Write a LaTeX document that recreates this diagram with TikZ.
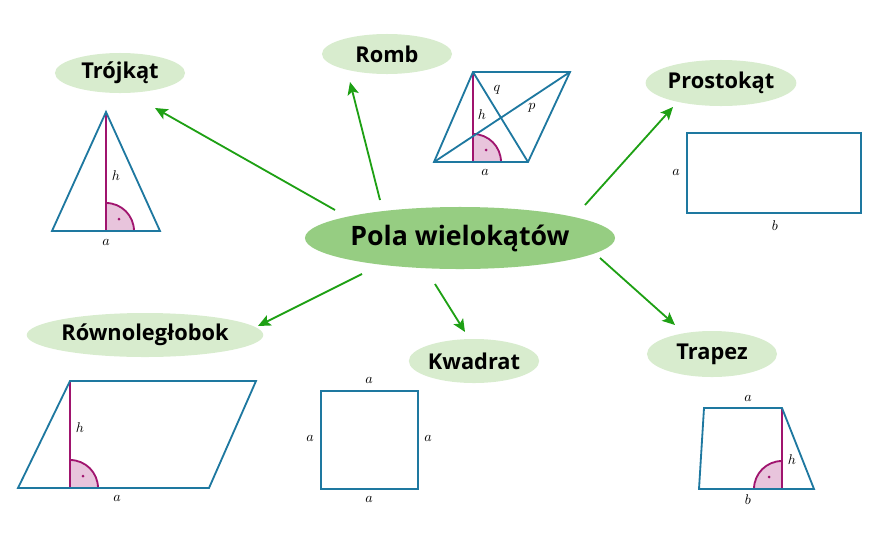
\documentclass[tikz,border=0pt]{standalone}
\usepackage{fontspec}
\newfontfamily\labfont{Open Sans}
\usetikzlibrary{shapes.geometric,arrows.meta}
\definecolor{edgeblue}{RGB}{30,120,160}
\definecolor{hmag}{RGB}{160,20,110}
\definecolor{angpink}{RGB}{232,196,220}
\definecolor{bubble}{RGB}{216,236,206}
\definecolor{bubblemain}{RGB}{150,205,130}
\definecolor{arrowgreen}{RGB}{30,160,20}
\tikzset{
  topic/.style={ellipse,fill=bubble,inner sep=0pt,font=\labfont\fontsize{15.5}{17}\bfseries\selectfont},
  figline/.style={draw=edgeblue,line width=1.3pt,line join=miter},
  height/.style={draw=hmag,line width=1.3pt},
  link/.style={-{Stealth[length=9pt,width=8pt,inset=2pt]},draw=arrowgreen,line width=1.3pt},
  lab/.style={font=\normalsize}
}
\begin{document}
\begin{tikzpicture}[x=0.025cm,y=-0.025cm]
\useasboundingbox (0,0) rectangle (880,540);

% Topics
\node[topic,fill=bubblemain,minimum width=7.25cm,minimum height=1.55cm,font=\labfont\fontsize{19}{22}\bfseries\selectfont] (c) at (460,238) {Pola wielokątów};
\node[topic,minimum width=3.25cm,minimum height=1cm] (tri) at (120,73) {Trójkąt};
\node[topic,minimum width=3.25cm,minimum height=1cm] (romb) at (387,54) {Romb};
\node[topic,minimum width=3.4cm,minimum height=1.15cm] (prost) at (721,83) {Prostokąt};
\node[topic,minimum width=5.25cm,minimum height=1.1cm] (row) at (145,335) {Równoległobok};
\node[topic,minimum width=3.25cm,minimum height=1.1cm] (kw) at (474,361) {Kwadrat};
\node[topic,minimum width=3.25cm,minimum height=1.15cm] (trap) at (712,354) {Trapez};

% Arrow ends
\coordinate (s1) at (335,210); \coordinate (e1) at (155,108);
\coordinate (s2) at (380,200); \coordinate (e2) at (350,82);
\coordinate (s3) at (585,205); \coordinate (e3) at (673,107);
\coordinate (s4) at (600,258); \coordinate (e4) at (675,325);
\coordinate (s5) at (362,274); \coordinate (e5) at (258,326);
\coordinate (s6) at (435,284); \coordinate (e6) at (465,332);

% Arrows
\foreach \i in {1,...,6}
  \draw[link] (s\i) -- (e\i);

% Triangle
\fill[angpink] (106,231) -- (134,231) arc[start angle=0,end angle=-90,radius=28] -- cycle;
\draw[height] (134,231) arc[start angle=0,end angle=-90,radius=28];
\draw[height] (106,112) -- (106,231);
\fill[hmag] (119,219) circle (1.5);
\draw[figline] (106,112) -- (160,231) -- (52,231) -- cycle;
\node[lab] (th) at (116,176) {$h$};
\node[lab] (ta) at (106,242) {$a$};

% Rhombus
\fill[angpink] (473,162) -- (501,162) arc[start angle=0,end angle=-90,radius=28] -- cycle;
\draw[height] (501,162) arc[start angle=0,end angle=-90,radius=28];
\draw[height] (473,72) -- (473,162);
\fill[hmag] (486,150) circle (1.5);
\draw[figline] (473,72) -- (570,72) -- (528,162) -- (434,162) -- cycle;
\draw[figline] (434,162) -- (570,72);
\draw[figline] (473,72) -- (528,162);
\node[lab] (rq) at (497,90) {$q$};
\node[lab] (rp) at (532,108) {$p$};
\node[lab] (rh) at (482,115) {$h$};
\node[lab] (ra) at (485,172) {$a$};

% Rectangle
\draw[figline] (687,133) rectangle (861,213);
\node[lab] (pa) at (676,172) {$a$};
\node[lab] (pb) at (775,226) {$b$};

% Parallelogram
\fill[angpink] (70,488) -- (98,488) arc[start angle=0,end angle=-90,radius=28] -- cycle;
\draw[height] (98,488) arc[start angle=0,end angle=-90,radius=28];
\draw[height] (70,381) -- (70,488);
\fill[hmag] (83,476) circle (1.5);
\draw[figline] (70,381) -- (256,381) -- (209,488) -- (18,488) -- cycle;
\node[lab] (gh) at (80,428) {$h$};
\node[lab] (ga) at (117,498) {$a$};

% Square
\draw[figline] (321,391) rectangle (418,489);
\node[lab] (st) at (369,380) {$a$};
\node[lab] (sl) at (310,438) {$a$};
\node[lab] (sr) at (428,438) {$a$};
\node[lab] (sb) at (369,499) {$a$};

% Trapezoid
\fill[angpink] (782,489) -- (754,489) arc[start angle=180,end angle=270,radius=28] -- cycle;
\draw[height] (754,489) arc[start angle=180,end angle=270,radius=28];
\draw[height] (782,408) -- (782,489);
\fill[hmag] (769,477) circle (1.5);
\draw[figline] (704,408) -- (782,408) -- (814,489) -- (699,489) -- cycle;
\node[lab] (zh) at (792,460) {$h$};
\node[lab] (za) at (748,398) {$a$};
\node[lab] (zb) at (748,500) {$b$};
\end{tikzpicture}
\end{document}
